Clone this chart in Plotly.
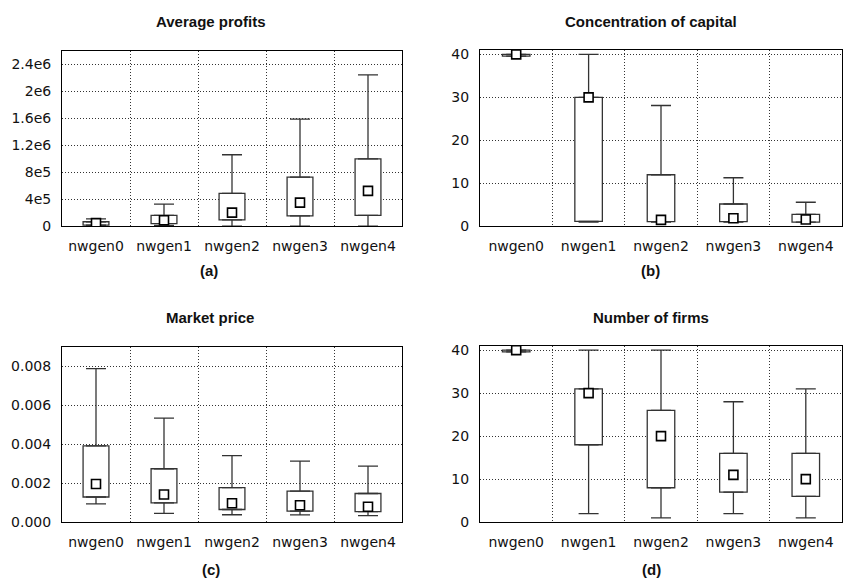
import plotly.graph_objects as go

categories = ["nwgen0", "nwgen1", "nwgen2", "nwgen3", "nwgen4"]

# (a) Average profits
profit_low = [2000, 12000, 3000, 3000, 3000]
profit_q1 = [19000, 40000, 97000, 155000, 164000]
profit_med = [48000, 90000, 203000, 352000, 526000]
profit_q3 = [68000, 162000, 488000, 729000, 1000000]
profit_high = [110000, 330000, 1062000, 1589000, 2245000]

# (b) Concentration of capital
capital_low = [39.6, 1.0, 1.0, 1.0, 1.0]
capital_q1 = [39.6, 1.15, 1.1, 1.1, 1.0]
capital_med = [40, 30, 1.5, 1.9, 1.6]
capital_q3 = [40, 30, 12, 5.2, 2.8]
capital_high = [40, 40, 28.1, 11.3, 5.6]

# (c) Market price
price_low = [0.00094, 0.00045, 0.00038, 0.00037, 0.00033]
price_q1 = [0.00129, 0.00099, 0.00065, 0.00057, 0.00054]
price_med = [0.00196, 0.00142, 0.00097, 0.00087, 0.00079]
price_q3 = [0.00392, 0.00274, 0.00177, 0.00159, 0.00147]
price_high = [0.00788, 0.00534, 0.00341, 0.00313, 0.00288]

# (d) Number of firms
firms_low = [39.6, 2, 1, 2, 1]
firms_q1 = [39.6, 18, 8, 7, 6]
firms_med = [40, 30, 20, 11, 10]
firms_q3 = [40, 31, 26, 16, 16]
firms_high = [40, 40, 40, 28, 31]

titles = ["Average profits", "Concentration of capital", "Market price", "Number of firms"]
panel_labels = ["(a)", "(b)", "(c)", "(d)"]

profit_ticks = [0, 4e5, 8e5, 1.2e6, 1.6e6, 2e6, 2.4e6]
profit_ticktext = ["0", "4e5", "8e5", "1.2e6", "1.6e6", "2e6", "2.4e6"]
price_ticks = [0, 0.002, 0.004, 0.006, 0.008]
count_ticks = [0, 10, 20, 30, 40]

panels = [
    (profit_low, profit_q1, profit_med, profit_q3, profit_high),
    (capital_low, capital_q1, capital_med, capital_q3, capital_high),
    (price_low, price_q1, price_med, price_q3, price_high),
    (firms_low, firms_q1, firms_med, firms_q3, firms_high),
]

W, H = 843, 585
# plot area pixel boxes: left, right, top, bottom
areas = [(62, 402, 48, 227), (480, 842, 47, 227), (62, 402, 350, 529), (480, 842, 349, 529)]
title_pos = [(210, 18), (651, 18), (210, 320), (651, 320)]
label_pos = [(209, 272), (650, 272), (211, 577), (651, 577)]

LC = "#333333"
fig = go.Figure()

for i, (lo, q1, med, q3, hi) in enumerate(panels):
    ax = "" if i == 0 else str(i + 1)
    xref, yref = "x" + ax, "y" + ax
    fig.add_trace(go.Bar(
        x=categories, y=[b - a for a, b in zip(q1, q3)], base=q1, width=0.38,
        marker=dict(color="white", line=dict(color=LC, width=1.3)),
        xaxis=xref, yaxis=yref, hoverinfo="skip"))
    fig.add_trace(go.Scatter(
        x=categories, y=q3, mode="markers",
        marker=dict(size=1, color="rgba(0,0,0,0)"),
        error_y=dict(type="data", symmetric=False,
                     array=[h - b for b, h in zip(q3, hi)],
                     arrayminus=[0] * len(q3),
                     color=LC, thickness=1.3, width=10),
        xaxis=xref, yaxis=yref, hoverinfo="skip"))
    fig.add_trace(go.Scatter(
        x=categories, y=q1, mode="markers",
        marker=dict(size=1, color="rgba(0,0,0,0)"),
        error_y=dict(type="data", symmetric=False,
                     array=[0] * len(q1),
                     arrayminus=[a - l for l, a in zip(lo, q1)],
                     color=LC, thickness=1.3, width=10),
        xaxis=xref, yaxis=yref, hoverinfo="skip"))
    fig.add_trace(go.Scatter(
        x=categories, y=med, mode="markers",
        marker=dict(symbol="square", size=9, color="white",
                    line=dict(color="black", width=1.6)),
        xaxis=xref, yaxis=yref))

axis_font = dict(family="DejaVu Sans", size=14, color="#111")
yranges = [[0, 2.6e6], [0, 41], [0, 0.009], [0, 41]]

layout = dict(width=W, height=H, margin=dict(l=0, r=0, t=0, b=0),
              paper_bgcolor="white", plot_bgcolor="white",
              showlegend=False, barmode="overlay")

GRID = dict(showgrid=True, gridcolor="#333", griddash="1px,2px", gridwidth=1)

for i in range(4):
    l, r, t, b = areas[i]
    key = "" if i == 0 else str(i + 1)
    layout["xaxis" + key] = dict(
        domain=[l / W, r / W], anchor="y" + key, type="category",
        tickson="boundaries", ticks="", showline=True, mirror=True,
        linecolor="black", linewidth=1, tickfont=axis_font,
        ticklabelstandoff=7, fixedrange=True, **GRID)
    ydict = dict(
        domain=[1 - b / H, 1 - t / H], anchor="x" + key, range=yranges[i],
        ticks="", showline=True, mirror=True, linecolor="black", linewidth=1,
        zeroline=False, tickfont=axis_font, ticklabelstandoff=7, fixedrange=True,
        **GRID)
    if i == 0:
        ydict.update(tickmode="array", tickvals=profit_ticks, ticktext=profit_ticktext)
    elif i == 2:
        ydict.update(tickmode="array", tickvals=price_ticks, tickformat=".3f")
    else:
        ydict.update(tickmode="array", tickvals=count_ticks)
    layout["yaxis" + key] = ydict

annotations = []
for i in range(4):
    tx, ty = title_pos[i]
    annotations.append(dict(text="<b>" + titles[i] + "</b>", x=tx / W, y=1 - ty / H,
                            xref="paper", yref="paper", showarrow=False,
                            xanchor="center", yanchor="middle",
                            font=dict(family="Liberation Sans", size=15, color="#111")))
    lx, ly = label_pos[i]
    annotations.append(dict(text="<b>" + panel_labels[i] + "</b>", x=lx / W, y=1 - ly / H,
                            xref="paper", yref="paper", showarrow=False,
                            xanchor="center", yanchor="middle",
                            font=dict(family="Liberation Sans", size=15, color="#111")))
layout["annotations"] = annotations

fig.update_layout(**layout)
fig.write_html("out.html", config={"displayModeBar": False},
               post_script="document.body.style.margin='0';document.body.style.overflow='hidden';")
